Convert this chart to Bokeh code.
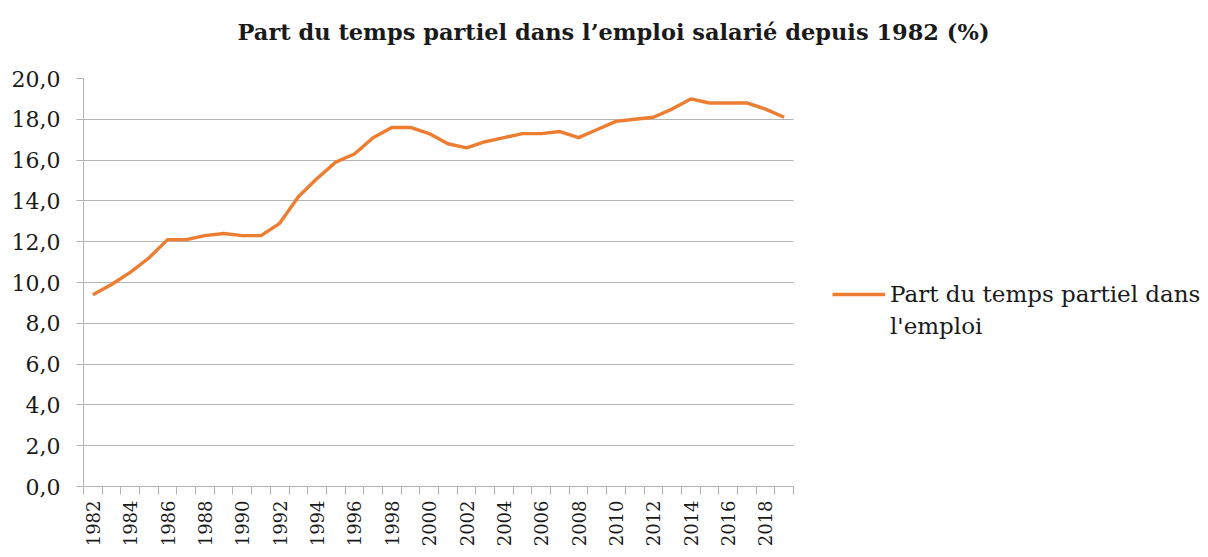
from bokeh.plotting import figure
from bokeh.models import (Range1d, FixedTicker, Legend, LegendItem, Title, ColumnDataSource)
from bokeh.embed import file_html
from bokeh.resources import INLINE
import math

years = list(range(1982, 2020))
part_temps_partiel = [9.4, 9.9, 10.5, 11.2, 12.1, 12.1, 12.3, 12.4, 12.3, 12.3,
                      12.9, 14.2, 15.1, 15.9, 16.3, 17.1, 17.6, 17.6, 17.3, 16.8,
                      16.6, 16.9, 17.1, 17.3, 17.3, 17.4, 17.1, 17.5, 17.9, 18.0,
                      18.1, 18.5, 19.0, 18.8, 18.8, 18.8, 18.5, 18.1]
x_tick_years = list(range(1982, 2019, 2))
y_ticks = [0, 2, 4, 6, 8, 10, 12, 14, 16, 18, 20]
y_tick_labels = ["0,0", "2,0", "4,0", "6,0", "8,0", "10,0", "12,0", "14,0", "16,0", "18,0", "20,0"]
title_text = "Part du temps partiel dans l\u2019emploi salarié depuis 1982 (%)"
legend_lines = ["Part du temps partiel dans", "l'emploi"]

FONT = "DejaVu Serif"
GRID = "#b4b4b4"
TXT = "#1a1a1a"

W, H = 1200, 549
LEFT, TOP, BOTTOM = 83, 78, 61
PLOT_W = 710  # width of the data area (the rest on the right holds the legend)
frame_w = W - LEFT
x0, x1 = years[0] - 0.5, years[-1] + 0.5
x_end = x0 + (x1 - x0) * frame_w / PLOT_W

p = figure(width=W, height=H, output_backend="svg", toolbar_location=None,
           x_range=Range1d(x0, x_end), y_range=Range1d(0, 20),
           min_border_left=LEFT, min_border_right=0, min_border_top=TOP, min_border_bottom=BOTTOM)
p.outline_line_color = None
p.background_fill_color = "white"

# horizontal grid lines, limited to the data area
p.xgrid.grid_line_color = None
try:
    p.ygrid.cross_bounds = (x0, x1)
    p.ygrid.ticker = FixedTicker(ticks=y_ticks)
    p.ygrid.grid_line_color = GRID
    p.ygrid.grid_line_width = 1
except Exception:
    p.ygrid.grid_line_color = None
    p.segment(x0=[x0] * len(y_ticks), x1=[x1] * len(y_ticks), y0=y_ticks, y1=y_ticks,
              line_color=GRID, line_width=1)

src = ColumnDataSource(dict(x=years, y=part_temps_partiel))
r = p.line("x", "y", source=src, line_color="#ED7D31", line_width=3.4, line_join="round")
dummy = p.line(x=[], y=[], line_alpha=0)

# Y axis
p.yaxis.ticker = FixedTicker(ticks=y_ticks)
p.yaxis.major_label_overrides = {t: l for t, l in zip(y_ticks, y_tick_labels)}
p.yaxis.axis_line_color = GRID
p.yaxis.major_tick_line_color = GRID
p.yaxis.major_tick_out = 7
p.yaxis.major_tick_in = 0
p.yaxis.minor_tick_line_color = None
p.yaxis.major_label_text_font = FONT
p.yaxis.major_label_text_font_size = "22px"
p.yaxis.major_label_text_color = TXT
p.yaxis.major_label_standoff = 16

# X axis
bounds = [y - 0.5 for y in years] + [years[-1] + 0.5]
p.xaxis.ticker = FixedTicker(ticks=x_tick_years, minor_ticks=bounds)
p.xaxis.bounds = (x0, x1)
p.xaxis.axis_line_color = GRID
p.xaxis.major_tick_line_color = None
p.xaxis.major_tick_out = 8
p.xaxis.major_tick_in = 0
p.xaxis.minor_tick_line_color = GRID
p.xaxis.minor_tick_out = 8
p.xaxis.minor_tick_in = 0
p.xaxis.major_label_orientation = math.pi / 2
p.xaxis.major_label_text_font = FONT
p.xaxis.major_label_text_font_size = "18px"
p.xaxis.major_label_text_color = TXT
p.xaxis.major_label_standoff = 6

# Title (outer) + spacer (next to frame)
p.title.text = title_text
p.title.align = "left"
p.title.offset = 154
p.title.text_font = FONT
p.title.text_font_size = "22.5px"
p.title.text_font_style = "bold"
p.title.text_color = TXT
p.title.standoff = 10
p.add_layout(Title(text=" ", text_font_size="10px", standoff=16), "above")

# Legend
legend = Legend(items=[LegendItem(label=legend_lines[0], renderers=[r]),
                       LegendItem(label=legend_lines[1], renderers=[dummy])],
                location=(749, 145), border_line_color=None, background_fill_alpha=0,
                glyph_width=53, glyph_height=30, label_height=30, label_standoff=5,
                spacing=2, padding=0, margin=0,
                label_text_font=FONT, label_text_font_size="23px", label_text_color=TXT)
p.add_layout(legend, "center")

open("out.html", "w").write(file_html(p, INLINE))
